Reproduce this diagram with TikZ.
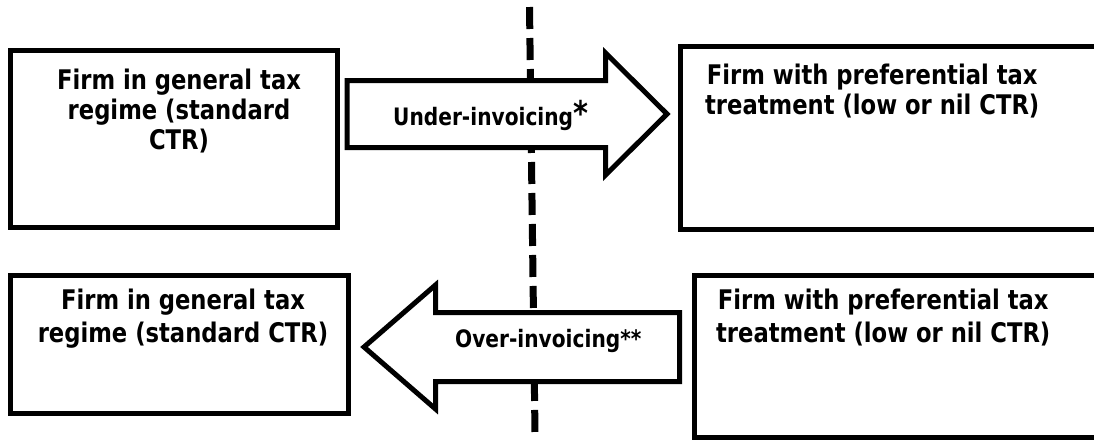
\documentclass[tikz,border=0pt]{standalone}
\usepackage{fontspec}
\setmainfont{DejaVu Sans}[FakeStretch=0.84]
\usetikzlibrary{positioning}
\tikzset{firmbox/.style={draw,line width=5pt,inner sep=0pt},
	 firmtext/.style={align=center,inner sep=0pt,font=\fontsize{27}{30}\selectfont\bfseries},
	 flowarrow/.style={draw,line width=5pt,fill=white,line join=miter},
	 flowlabel/.style={inner sep=0pt,font=\fontsize{24}{28}\selectfont\bfseries},
	 divider/.style={line width=7pt,dash pattern=on 22pt off 9pt}
	 }

\begin{document}
\begin{tikzpicture}[x=1pt,y=-1pt]% transfer pricing
        \clip (0,0) rectangle (1094,440);
        \coordinate (divtop) at (529.5,7);
        \coordinate (divbot) at (535,433);
        \draw[divider] (divtop) -- (divbot);
        % upper row
        \node[firmbox, minimum width=327pt, minimum height=177pt] (gen1) at (174,139) {};
        \node[firmbox, minimum width=429.5pt, minimum height=182.5pt] (pref1) at (895.25,137.75) {};
        \node[firmtext, below=21pt of gen1.north, xshift=5pt] (gen1txt) {Firm in general tax\\regime (standard\\CTR)};
        \node[firmtext, below=20pt of pref1.north, xshift=-23pt] (pref1txt) {Firm with preferential tax\\treatment (low or nil CTR)};
        \draw[flowarrow] (347,80.5) -- (605.5,80.5) -- (605.5,53) -- (667,114) -- (605.5,175) -- (605.5,147.5) -- (347,147.5) -- cycle;
        \node[flowlabel, anchor=base west] (under) at (393,125) {Under-invoicing{\fontsize{34}{34}\selectfont*}};
        % lower row
        \node[firmbox, minimum width=338pt, minimum height=138pt] (gen2) at (179.5,344.5) {};
        \node[firmbox, minimum width=415.5pt, minimum height=162.5pt] (pref2) at (902.25,356.25) {};
        \node[firmtext, below=16pt of gen2.north, xshift=3.5pt, font=\fontsize{27}{33}\selectfont\bfseries] (gen2txt) {Firm in general tax\\regime (standard CTR)};
        \node[firmtext, below=16.5pt of pref2.north, xshift=-19pt, font=\fontsize{27}{33}\selectfont\bfseries] (pref2txt) {Firm with preferential tax\\treatment (low or nil CTR)};
        \draw[flowarrow] (364,347) -- (435.5,285) -- (435.5,312.5) -- (679.5,312.5) -- (679.5,381.5) -- (435.5,381.5) -- (435.5,409) -- cycle;
        \node[flowlabel, anchor=base west] (over) at (455,347) {Over-invoicing**};
\end{tikzpicture}
\end{document}
